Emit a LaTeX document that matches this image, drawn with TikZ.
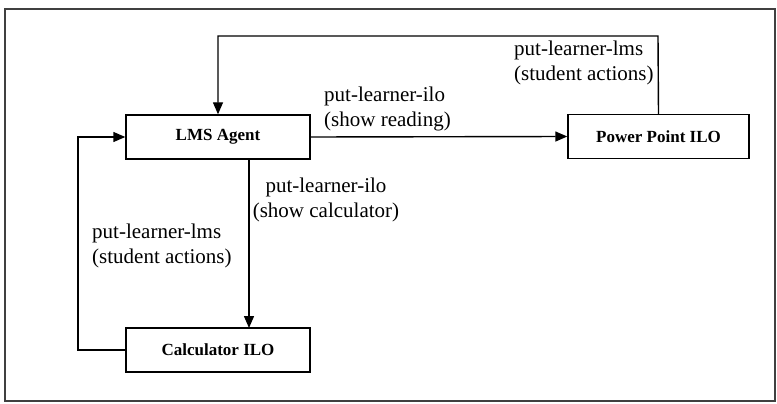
\documentclass[tikz,border=0pt]{standalone}
\usepackage{fontspec}
\setmainfont{Liberation Serif}
\usetikzlibrary{arrows.meta}
\tikzset{
  box/.style={draw, line width=1.4pt, minimum width=184pt, minimum height=44pt, inner sep=0pt, font=\fontsize{17}{20}\selectfont\bfseries},
  lab/.style={font=\fontsize{21}{25.5}\selectfont, inner sep=0pt},
  conn/.style={line width=1.4pt},
  arr/.style={conn, -{Triangle[length=12pt,width=10pt]}}
}
\begin{document}
\begin{tikzpicture}[x=1pt,y=-1pt]
\useasboundingbox (0,0) rectangle (777,404);
\draw[line width=1.6pt, black!75] (5,9) rectangle (775,401);
\node[box] (lms) at (218,137) {LMS Agent};
\node[box, minimum width=181pt] (pp) at (658.5,136.5) {Power Point ILO};
\node[box] (calc) at (218,350) {Calculator ILO};
\coordinate (tr) at (658,36);
\coordinate (tl) at (218,36);
\coordinate (lb) at (78,350);
\coordinate (lt) at (78,137);
\coordinate (ls) at (249,159);
\coordinate (ct) at (249,328);
\draw[arr] (pp.north) -- (tr) -- (tl) -- (lms.north);
\draw[arr] (lms.east) -- (pp.west);
\draw[arr] (ls) -- (ct);
\draw[arr] (calc.west) -- (lb) -- (lt) -- (lms.west);
\node[lab, anchor=west, align=left] (l1) at (324,109) {put-learner-ilo\\(show reading)};
\node[lab, anchor=west, align=left] (l2) at (514,63) {put-learner-lms\\(student actions)};
\node[lab, align=center] (l3) at (326,200) {put-learner-ilo\\(show calculator)};
\node[lab, anchor=west, align=left] (l4) at (92,246) {put-learner-lms\\(student actions)};
\end{tikzpicture}
\end{document}
